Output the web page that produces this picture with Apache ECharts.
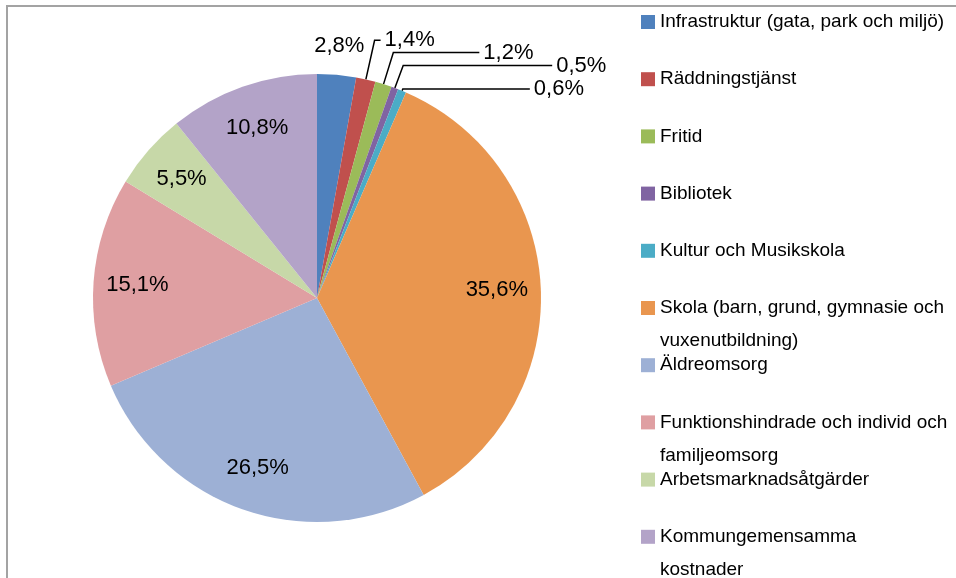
<!DOCTYPE html>
<html><head><meta charset="utf-8">
<script src="https://cdn.jsdelivr.net/npm/echarts@6/dist/echarts.min.js"></script>
<style>html,body{margin:0;padding:0;background:#fff}#chart{width:956px;height:578px}</style>
</head><body><div id="chart"></div>
<script>
// ---- data ----
const categories = [
  'Infrastruktur (gata, park och miljö)',
  'Räddningstjänst',
  'Fritid',
  'Bibliotek',
  'Kultur och Musikskola',
  'Skola (barn, grund, gymnasie och vuxenutbildning)',
  'Äldreomsorg',
  'Funktionshindrade och individ och familjeomsorg',
  'Arbetsmarknadsåtgärder',
  'Kommungemensamma kostnader'
];
const shares = [2.8, 1.4, 1.2, 0.5, 0.6, 35.6, 26.5, 15.1, 5.5, 10.8];
const legendLines = [
  ['Infrastruktur (gata, park och miljö)'],
  ['Räddningstjänst'],
  ['Fritid'],
  ['Bibliotek'],
  ['Kultur och Musikskola'],
  ['Skola (barn, grund, gymnasie och', 'vuxenutbildning)'],
  ['Äldreomsorg'],
  ['Funktionshindrade och individ och', 'familjeomsorg'],
  ['Arbetsmarknadsåtgärder'],
  ['Kommungemensamma', 'kostnader']
];
// ---- styles ----
const colors = ['#4F81BD','#C0504D','#9BBB59','#8064A2','#4BACC6','#E9964F','#9DB0D5','#DF9FA2','#C7D8A8','#B3A3C8'];
const R = 224;
const center = [317, 298];
const leaderLengths = {1: [40, 6], 2: [33, 86], 3: [24, 149], 4: [2, 127]};
const labelFont = {fontSize: 22, fontFamily: "'Liberation Sans', Arial, sans-serif", color: '#000'};
const fmt = p => p.value.toFixed(1).replace('.', ',') + '%';

function overlay(radius, idxs) {
  return {
    type: 'pie', radius: radius, center: center, startAngle: 90, clockwise: true,
    silent: true, avoidLabelOverlap: false, z: 3,
    itemStyle: {color: 'rgba(0,0,0,0)', borderWidth: 0},
    labelLine: {show: false},
    label: Object.assign({show: false, position: 'inside', formatter: fmt}, labelFont),
    emphasis: {disabled: true},
    data: categories.map((name, i) => ({name: name, value: shares[i], label: {show: idxs.indexOf(i) >= 0}}))
  };
}

const mainSeries = {
  type: 'pie', radius: R, center: center, startAngle: 90, clockwise: true,
  avoidLabelOverlap: false,
  itemStyle: {borderWidth: 0},
  label: Object.assign({show: false, position: 'outside', formatter: fmt, distanceToLabelLine: 4}, labelFont),
  labelLine: {show: false, lineStyle: {color: '#000', width: 1.5}},
  emphasis: {disabled: true},
  data: categories.map((name, i) => {
    const item = {name: name, value: shares[i]};
    if (leaderLengths[i]) {
      item.label = {show: true};
      item.labelLine = {show: true, length: leaderLengths[i][0], length2: leaderLengths[i][1]};
    }
    return item;
  })
};

const legends = categories.map((name, i) => {
  const lines = legendLines[i];
  const text = lines.length > 1 ? '\n' + lines.join('\n') : lines[0];
  const cy = 22 + i * 57.2;
  const h = lines.length > 1 ? 99 : 33;
  return {
    orient: 'vertical', left: 641, top: cy - h / 2, padding: 0,
    itemWidth: 14, itemHeight: 14, icon: 'rect', selectedMode: false,
    data: [name],
    formatter: () => text,
    textStyle: {fontSize: 19, lineHeight: 33, color: '#000',
      fontFamily: "'Liberation Sans', Arial, sans-serif"}
  };
});

const chart = echarts.init(document.getElementById('chart'), null, {renderer: 'canvas'});
chart.setOption({
  animation: false,
  color: colors,
  backgroundColor: '#fff',
  legend: legends,
  graphic: [{type: 'rect', silent: true, z: -1,
    shape: {x: 7, y: 6, width: 1100, height: 700},
    style: {fill: null, stroke: '#a3a3a3', lineWidth: 2}}],
  series: [
    mainSeries,
    overlay([130, R], [5, 6, 7, 8, 9]),
    overlay([R, 276], [0])
  ]
});
</script></body></html>
